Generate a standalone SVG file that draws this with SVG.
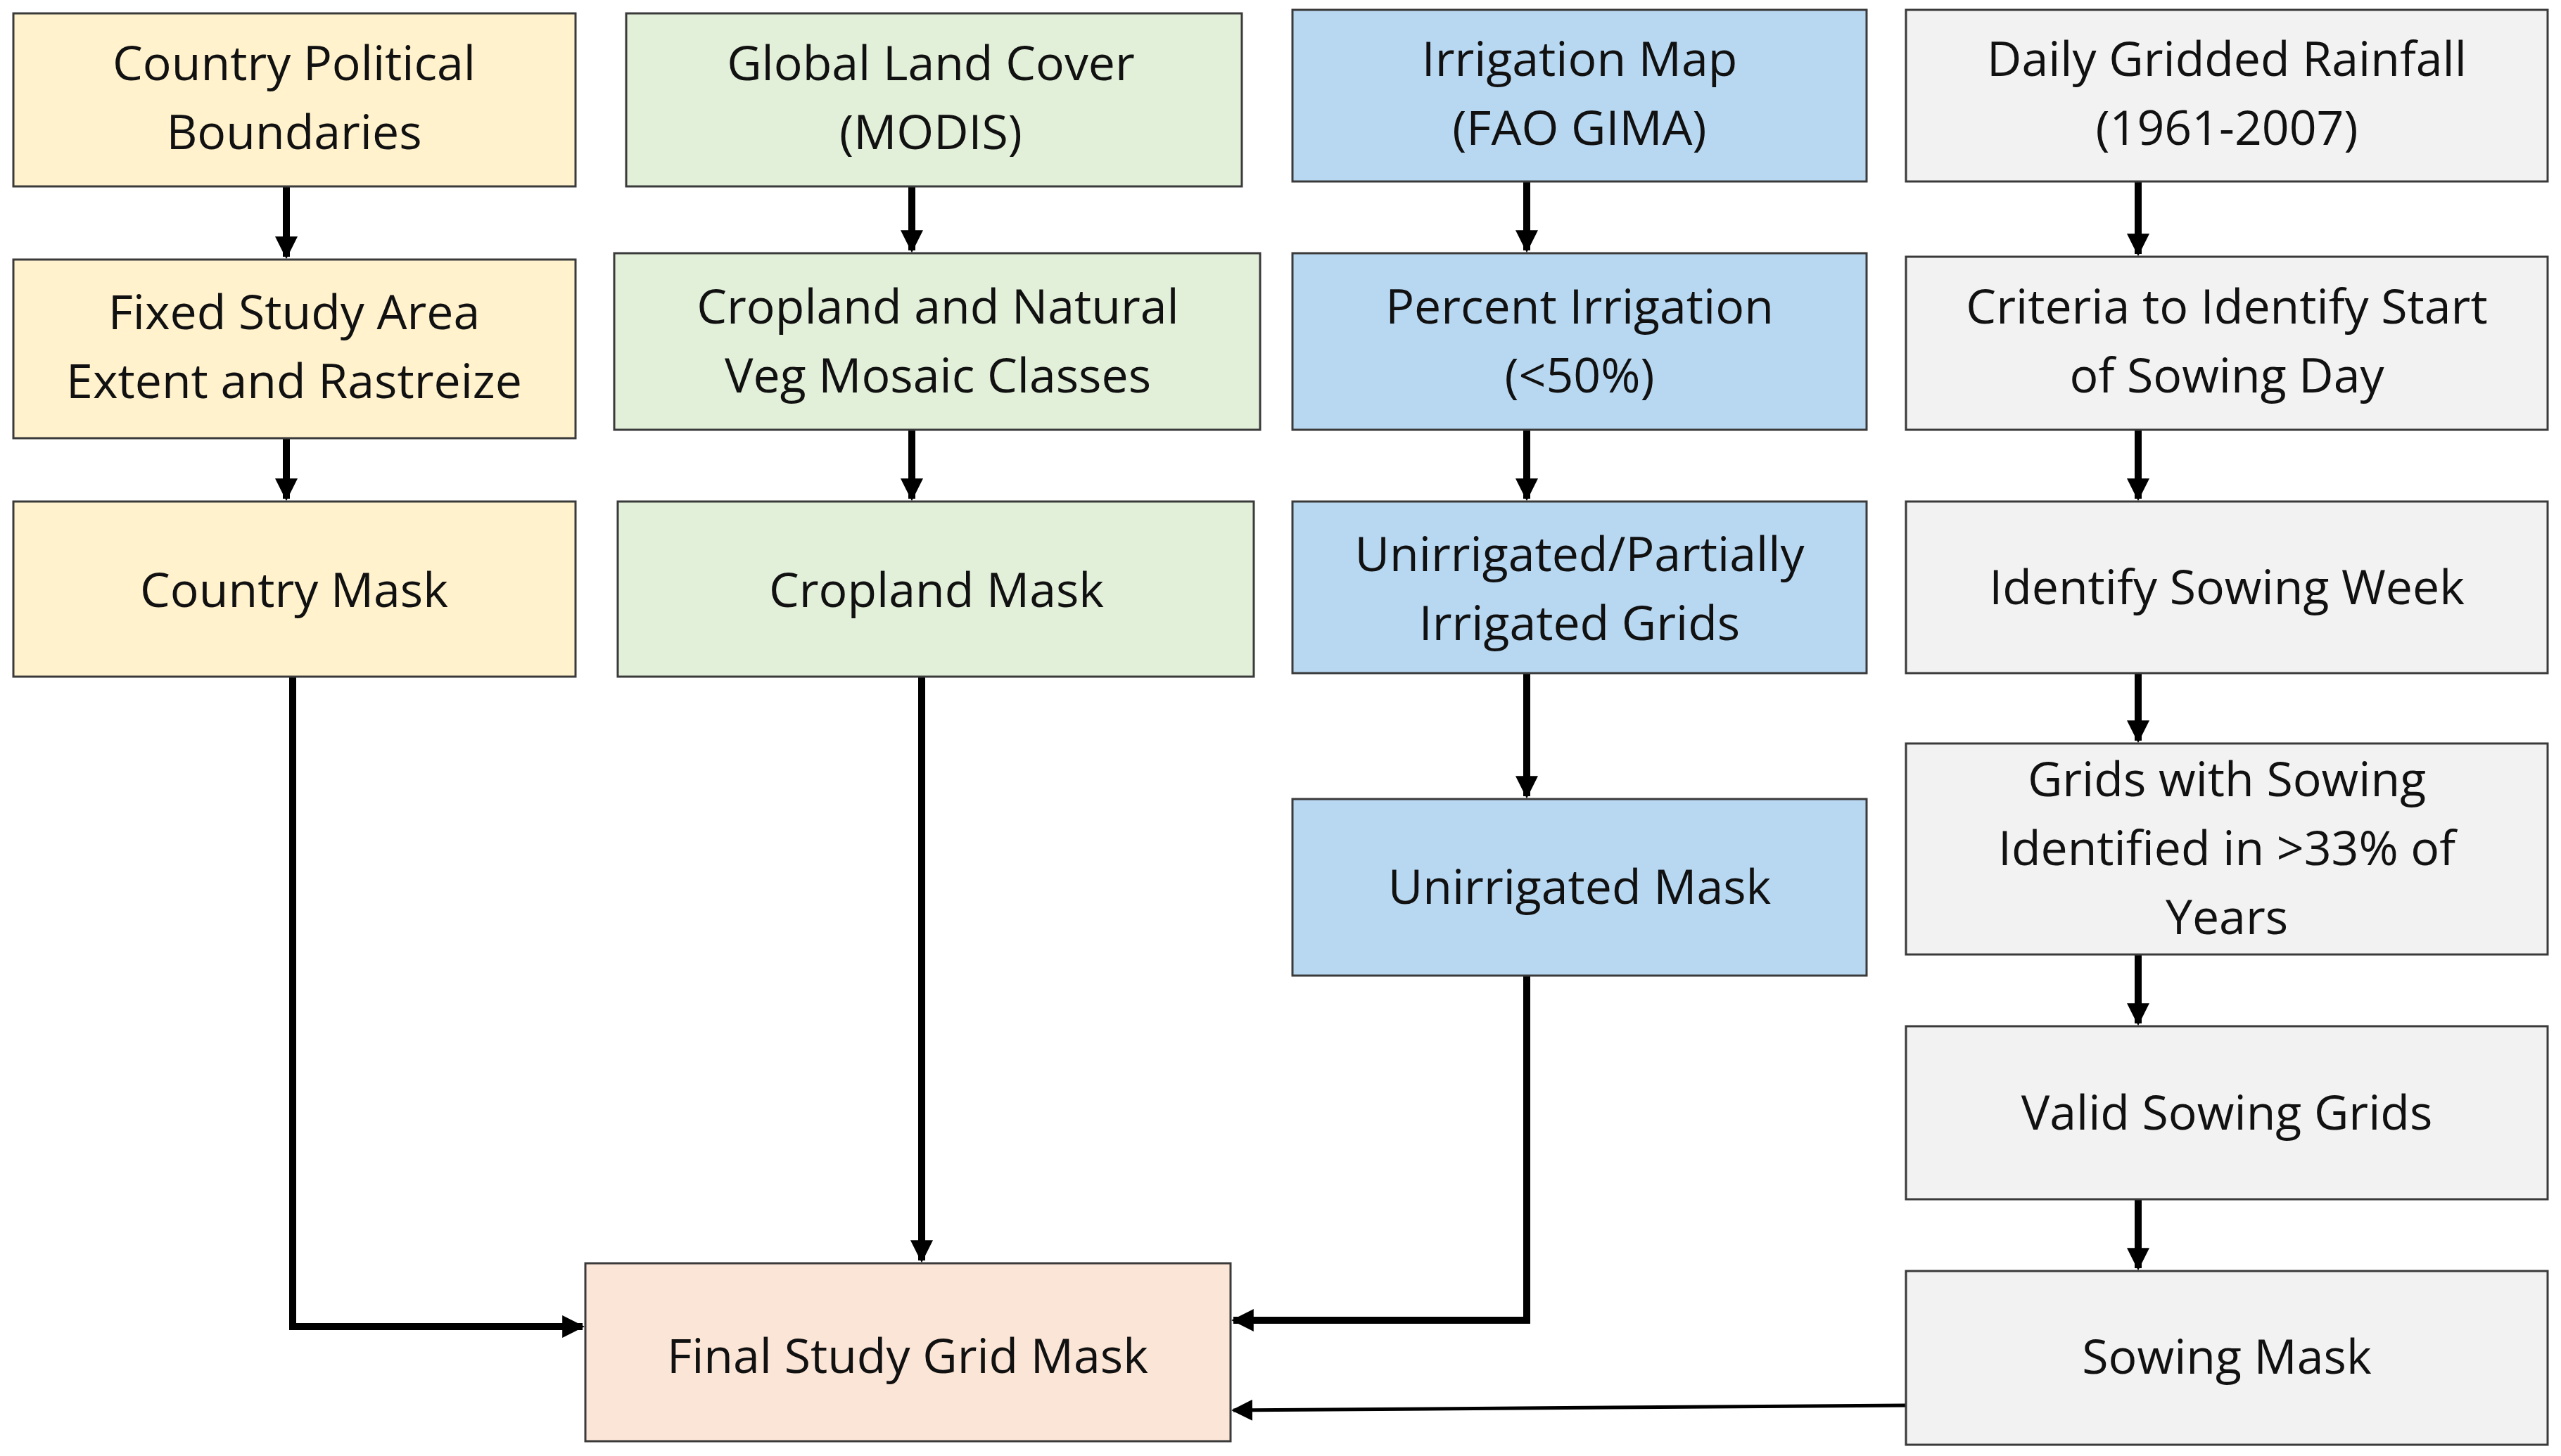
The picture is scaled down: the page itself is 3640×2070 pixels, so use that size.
<svg xmlns="http://www.w3.org/2000/svg" width="3640" height="2070" viewBox="0 0 3640 2070">
<style>
rect{stroke:#3a3a3a;stroke-width:3}
.y{fill:#FFF2CC}.g{fill:#E2F0D9}.b{fill:#B8D8F2}.w{fill:#F2F2F2}.f{fill:#FBE5D6}
text{font-family:"Open Sans","Liberation Sans",sans-serif;font-size:68px;fill:#111;text-anchor:middle}
.c path{fill:none;stroke:#000;stroke-width:10}
</style>
<defs><marker id="a" viewBox="0 0 10 10" refX="9" refY="5" markerWidth="3.2" markerHeight="3.2" orient="auto"><path d="M0,0L10,5L0,10z" fill="#000"/></marker>
<marker id="a2" viewBox="0 0 10 10" refX="9" refY="5" markerWidth="6" markerHeight="6" orient="auto"><path d="M0,0L10,5L0,10z" fill="#000"/></marker></defs>
<g class="c">
<path d="M407,265V365" marker-end="url(#a)"/><path d="M407,623V709" marker-end="url(#a)"/>
<path d="M1296,265V356" marker-end="url(#a)"/><path d="M1296,611V709" marker-end="url(#a)"/>
<path d="M2170,258V356" marker-end="url(#a)"/><path d="M2170,611V709" marker-end="url(#a)"/><path d="M2170,957V1132" marker-end="url(#a)"/>
<path d="M3039,258V361" marker-end="url(#a)"/><path d="M3039,611V709" marker-end="url(#a)"/><path d="M3039,957V1053" marker-end="url(#a)"/><path d="M3039,1357V1455" marker-end="url(#a)"/><path d="M3039,1705V1803" marker-end="url(#a)"/>
<path d="M416,962V1886H828" marker-end="url(#a)"/>
<path d="M1310,962V1792" marker-end="url(#a)"/>
<path d="M2170,1387V1877H1753" marker-end="url(#a)"/>
<path d="M2709,1998L1753,2005" style="stroke-width:5" marker-end="url(#a2)"/>
</g>
<g id="n1"><rect class="y" x="19" y="19" width="799" height="246"/><text x="418" y="114">Country Political<tspan x="418" dy="98">Boundaries</tspan></text></g>
<g id="n2"><rect class="y" x="19" y="369" width="799" height="254"/><text x="418" y="468">Fixed Study Area<tspan x="418" dy="98">Extent and Rastreize</tspan></text></g>
<g id="n3"><rect class="y" x="19" y="713" width="799" height="249"/><text x="418" y="863">Country Mask</text></g>
<g id="n4"><rect class="g" x="890" y="19" width="875" height="246"/><text x="1323" y="114">Global Land Cover<tspan x="1323" dy="98">(MODIS)</tspan></text></g>
<g id="n5"><rect class="g" x="873" y="360" width="918" height="251"/><text x="1333" y="460">Cropland and Natural<tspan x="1333" dy="98">Veg Mosaic Classes</tspan></text></g>
<g id="n6"><rect class="g" x="878" y="713" width="904" height="249"/><text x="1331" y="863">Cropland Mask</text></g>
<g id="n7"><rect class="b" x="1837" y="14" width="816" height="244"/><text x="2245" y="108">Irrigation Map<tspan x="2245" dy="98">(FAO GIMA)</tspan></text></g>
<g id="n8"><rect class="b" x="1837" y="360" width="816" height="251"/><text x="2245" y="460">Percent Irrigation<tspan x="2245" dy="98">(&lt;50%)</tspan></text></g>
<g id="n9"><rect class="b" x="1837" y="713" width="816" height="244"/><text x="2245" y="812">Unirrigated/Partially<tspan x="2245" dy="98">Irrigated Grids</tspan></text></g>
<g id="n10"><rect class="b" x="1837" y="1136" width="816" height="251"/><text x="2245" y="1285">Unirrigated Mask</text></g>
<g id="n11"><rect class="w" x="2709" y="14" width="912" height="244"/><text x="3165" y="108">Daily Gridded Rainfall<tspan x="3165" dy="98">(1961-2007)</tspan></text></g>
<g id="n12"><rect class="w" x="2709" y="365" width="912" height="246"/><text x="3165" y="460">Criteria to Identify Start<tspan x="3165" dy="98">of Sowing Day</tspan></text></g>
<g id="n13"><rect class="w" x="2709" y="713" width="912" height="244"/><text x="3165" y="859">Identify Sowing Week</text></g>
<g id="n14"><rect class="w" x="2709" y="1057" width="912" height="300"/><text x="3165" y="1132">Grids with Sowing<tspan x="3165" dy="98">Identified in &gt;33% of</tspan><tspan x="3165" dy="98">Years</tspan></text></g>
<g id="n15"><rect class="w" x="2709" y="1459" width="912" height="246"/><text x="3165" y="1606">Valid Sowing Grids</text></g>
<g id="n16"><rect class="w" x="2709" y="1807" width="912" height="247"/><text x="3165" y="1953">Sowing Mask</text></g>
<g id="n17"><rect class="f" x="832" y="1796" width="917" height="253"/><text x="1290" y="1952">Final Study Grid Mask</text></g>
</svg>
